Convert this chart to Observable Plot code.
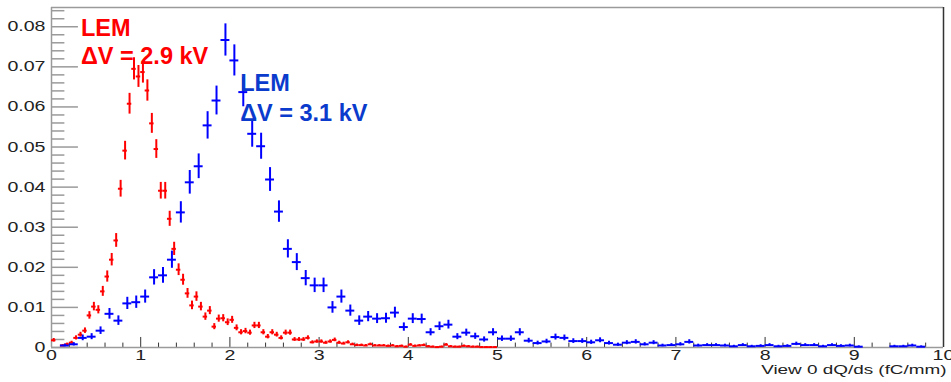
<!DOCTYPE html>
<html>
<head>
<meta charset="utf-8">
<script src="https://cdn.jsdelivr.net/npm/d3@7"></script>
<script src="https://cdn.jsdelivr.net/npm/@observablehq/plot@0.6"></script>
<style>
  html, body { margin: 0; padding: 0; background: #fff; }
  #chart svg { display: block; }
</style>
</head>
<body>
<div id="chart"></div>
<script>
// ---- Data (normalised dQ/ds histograms) ----
// Red: LEM ΔV = 2.9 kV, bins of 0.05 fC/mm starting at 0 (bins above 5 are empty)
const redBinWidth = 0.05;
const redValues = [
  0.0018, 0, 0.0005, 0.0008, 0.0012, 0.0024, 0.0032, 0.0042, 0.008, 0.0102,
  0.0094, 0.014, 0.0177, 0.0219, 0.0267, 0.0396, 0.0491, 0.0608, 0.0695, 0.0676,
  0.0687, 0.0641, 0.0559, 0.0495, 0.0391, 0.0391, 0.0321, 0.0246, 0.0194, 0.0169,
  0.0135, 0.0105, 0.0127, 0.0102, 0.0077, 0.0092, 0.0052, 0.0072, 0.0073, 0.0063,
  0.0069, 0.0049, 0.0038, 0.0041, 0.0037, 0.0055, 0.0055, 0.0038, 0.0027, 0.0038,
  0.0032, 0.0024, 0.0037, 0.0037, 0.002, 0.002, 0.002, 0.0024, 0.0013, 0.0015,
  0.0015, 0.0012, 0.0015, 0.0019, 0.0012, 0.001, 0.0013, 0.0008, 0.0006, 0.0006,
  0.0005, 0.0008, 0.0005, 0.0005, 0.0005, 0.0004, 0.0005, 0.0003, 0.0004, 0.0002,
  0.0007, 0.0004, 0.0005, 0.0006, 0.0003, 0.0002, 0.0001, 0.0002, 0.0007, 0.0003,
  0.0002, 0.0002, 0.0004, 0.0003, 0.0002, 0.0002, 0.0001, 0.0001, 0.0001, 0.0001
];
// Blue: LEM ΔV = 3.1 kV, bins of 0.1 fC/mm starting at 0
const blueBinWidth = 0.1;
const blueValues = [
  0, 0.0005, 0.0008, 0.0024, 0.0027, 0.0042, 0.0084, 0.0067, 0.011, 0.0113,
  0.0127, 0.0175, 0.018, 0.0219, 0.0337, 0.0412, 0.0452, 0.0554, 0.0616, 0.0767,
  0.0716, 0.0637, 0.0533, 0.0502, 0.0419, 0.0339, 0.0246, 0.0213, 0.0173, 0.0155,
  0.0155, 0.01, 0.0127, 0.0092, 0.0067, 0.0077, 0.0072, 0.0073, 0.0087, 0.0051,
  0.0072, 0.0071, 0.0038, 0.0053, 0.0057, 0.0027, 0.0037, 0.0028, 0.002, 0.0038,
  0.0022, 0.0022, 0.0038, 0.0017, 0.0011, 0.0015, 0.0026, 0.0024, 0.0016, 0.0016,
  0.0013, 0.0018, 0.0011, 0.0007, 0.0012, 0.0014, 0.0008, 0.0012, 0.0005, 0.0006,
  0.0008, 0.0014, 0.0005, 0.0006, 0.0006, 0.0005, 0.0003, 0.0006, 0.0003, 0.0004,
  0.0006, 0.0003, 0.0004, 0.0009, 0.0006, 0.0006, 0.0003, 0.0006, 0.0004, 0.0005,
  0.0002, 0, 0, 0, 0.0003, 0.0003, 0.0005, 0.0002, 0, 0
];
// statistical error scale (error ≈ k·sqrt(value), as for Poisson counts)
const redErrK = 0.0105;
const blueErrK = 0.0145;

const xTickValues = [0, 1, 2, 3, 4, 5, 6, 7, 8, 9, 10];
const yTickValues = [0, 0.01, 0.02, 0.03, 0.04, 0.05, 0.06, 0.07, 0.08];
const yTickLabels = ["0", "0.01", "0.02", "0.03", "0.04", "0.05", "0.06", "0.07", "0.08"];
const xTitle = "View 0 dQ/ds (fC/mm)";
const labelTexts = ["LEM\nΔV = 2.9 kV", "LEM\nΔV = 3.1 kV"];
const labelX = [0.33, 2.115];
const labelY = [0.0828, 0.0691];

// ---- build tables ----
function toPoints(values, w, k) {
  return values.map((v, i) => ({x: (i + 0.5) * w, y: v, e: k * Math.sqrt(v), hw: w / 2}))
               .filter(d => d.y > 0);
}
const red = toPoints(redValues, redBinWidth, redErrK);
const blue = toPoints(blueValues, blueBinWidth, blueErrK);

const yMax = 0.0848;
const xMinor = d3.range(0, 10.001, 0.2).filter(v => Math.abs(v - Math.round(v)) > 1e-6);
const yMinor = d3.range(0, 0.0841, 0.002).filter(v => Math.abs(v * 100 - Math.round(v * 100)) > 1e-6);

const axisFont = "'Liberation Sans', Arial, Helvetica, sans-serif";

function errorMarks(data, color) {
  return [
    Plot.ruleX(data, {x: "x", y1: d => Math.max(0, d.y - d.e), y2: d => Math.min(yMax, d.y + d.e), stroke: color, strokeWidth: 2}),
    Plot.ruleY(data, {y: "y", x1: d => d.x - d.hw, x2: d => d.x + d.hw, stroke: color, strokeWidth: 2})
  ];
}

const chart = Plot.plot({
  width: 951,
  height: 382,
  marginLeft: 51,
  marginRight: 8,
  marginTop: 7,
  marginBottom: 35,
  x: {domain: [0, 10], axis: null},
  y: {domain: [0, yMax], axis: null},
  style: {background: "#fff", overflow: "visible"},
  marks: [
    // frame
    Plot.ruleY([yMax], {stroke: "#9a9a9a", strokeWidth: 1.5}),
    Plot.ruleX([10], {stroke: "#333", strokeWidth: 1.5}),
    // y ticks (ROOT style, inside)
    Plot.ruleY(yMinor, {y: d => d, x1: 0, x2: 0.15, stroke: "#9a9a9a", strokeWidth: 1.5}),
    Plot.ruleY(yTickValues, {y: d => d, x1: 0, x2: 0.302, stroke: "#9a9a9a", strokeWidth: 1.5}),
    // x ticks
    Plot.ruleX(xMinor, {x: d => d, y1: 0, y2: 0.0011, stroke: "#333", strokeWidth: 1}),
    Plot.ruleX(xTickValues, {x: d => d, y1: 0, y2: 0.0025, stroke: "#333", strokeWidth: 1}),
    // axes lines
    Plot.ruleX([0], {stroke: "#9a9a9a", strokeWidth: 1.5}),
    Plot.ruleY([0], {stroke: "#9a9a9a", strokeWidth: 1.5}),
    // data
    ...errorMarks(red, "#ff0000"),
    ...errorMarks(blue, "#0000ff"),
    // tick labels
    Plot.text(yTickValues, {x: 0, y: d => d, text: (d, i) => yTickLabels[i], textAnchor: "end", dx: -6,
      fontSize: 14, fontFamily: axisFont, fill: "#222"}),
    Plot.text(xTickValues, {x: d => d, y: 0, text: d => String(d), lineAnchor: "top", dy: 3,
      fontSize: 14, fontFamily: axisFont, fill: "#222"}),
    Plot.text([xTitle], {x: 10, y: 0, text: d => d, textAnchor: "end", lineAnchor: "top", dx: 3, dy: 17,
      fontSize: 13.5, fontFamily: axisFont, fill: "#222"}),
    // annotations
    Plot.text([0], {x: labelX[0], y: labelY[0], text: () => labelTexts[0], textAnchor: "start", lineAnchor: "top",
      lineHeight: 1.2, fontSize: 23.5, fontWeight: "bold", fontFamily: axisFont, fill: "#ff0000"}),
    Plot.text([1], {x: labelX[1], y: labelY[1], text: () => labelTexts[1], textAnchor: "start", lineAnchor: "top",
      lineHeight: 1.26, fontSize: 23.5, fontWeight: "bold", fontFamily: axisFont, fill: "#0b3bcc"})
  ]
});

// the axis lettering in the reference is horizontally stretched
const stretched = new Set([...yTickLabels, ...xTickValues.map(String), xTitle]);
chart.querySelectorAll("text").forEach(t => {
  if (!stretched.has(t.textContent)) return;
  const tr = t.getAttribute("transform");
  if (tr) t.setAttribute("transform", tr + " scale(1.4,1)");
  else {
    const x = +(t.getAttribute("x") || 0);
    t.setAttribute("x", x / 1.4);
    t.setAttribute("transform", "scale(1.4,1)");
  }
});

document.getElementById("chart").appendChild(chart);
</script>
</body>
</html>
